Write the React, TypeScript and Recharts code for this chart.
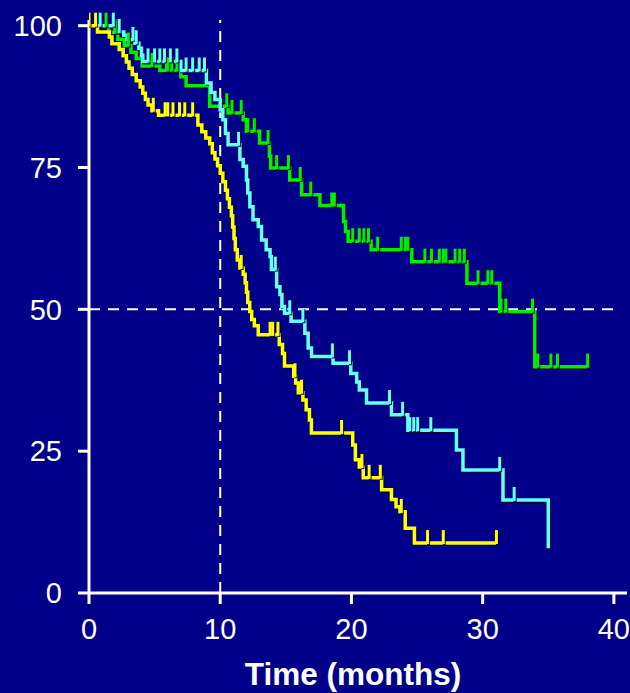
import React from 'react'
import { ComposedChart, Line, Scatter, XAxis, YAxis, ReferenceLine, Label } from 'recharts'

// survival curves: [time in months, % surviving] at each event
const yellowSteps = [
  [0, 100], [0.65, 98.9], [1.55, 98.0], [1.75, 96.8], [2.3, 95.8], [2.6, 94.7], [2.85, 93.6], [3.05, 92.5],
  [3.3, 91.4], [3.6, 90.3], [3.9, 89.2], [4.1, 88.1], [4.3, 87.0], [4.5, 86.0], [4.8, 85.0], [5.3, 84.2],
  [8.3, 82.5], [8.6, 81.3], [8.9, 80.2], [9.2, 79.2], [9.4, 77.6], [9.6, 76.5], [9.8, 75.3], [10.0, 74.0],
  [10.2, 72.5], [10.4, 71.0], [10.55, 69.5], [10.7, 68.0], [10.85, 66.5], [10.95, 64.5], [11.05, 62.5],
  [11.15, 60.5], [11.3, 58.7], [11.5, 57.3], [11.75, 56.2], [11.9, 54.7], [12.0, 53.0], [12.1, 51.2],
  [12.25, 49.6], [12.4, 48.2], [12.6, 47.1], [12.9, 45.5], [14.5, 43.8], [14.75, 42.2], [14.9, 40.0],
  [15.6, 38.2], [15.75, 37.0], [15.95, 35.3], [16.3, 34.0], [16.55, 32.3], [16.8, 30.5], [16.95, 28.2],
  [20.1, 26.1], [20.3, 23.5], [20.6, 22.2], [20.9, 20.3], [22.3, 18.2], [23.05, 16.5], [23.4, 15.2],
  [23.7, 14.3], [24.1, 11.4], [24.8, 8.8], [31.05, 8.8],
]
const yellowCensored = [0, 0.5, 4.9, 5.8, 6.0, 6.4, 6.9, 7.3, 7.9, 11.6, 13.8, 14.0, 14.4, 15.7, 16.2, 19.25, 20.8, 21.35, 22.2, 23.8, 25.8, 27.0, 31.05]

const cyanSteps = [
  [0, 100], [2.0, 98.9], [2.65, 98.3], [2.9, 97.5], [3.5, 96.9], [3.8, 96.0], [4.0, 94.8], [4.1, 93.7],
  [7.0, 92.1], [8.95, 89.9], [9.3, 88.2], [9.6, 87.0], [10.0, 85.2], [10.2, 83.4], [10.4, 81.0], [10.6, 79.0],
  [11.5, 76.4], [11.75, 75.2], [12.0, 72.8], [12.1, 70.5], [12.26, 68.1], [12.5, 65.8], [12.9, 64.6],
  [13.15, 62.2], [13.5, 60.5], [13.8, 59.3], [13.9, 57.0], [14.3, 54.0], [14.55, 52.6], [14.7, 50.5],
  [14.9, 49.3], [15.4, 47.9], [16.45, 45.8], [16.7, 43.2], [16.96, 41.7], [18.6, 40.5], [19.95, 38.7],
  [20.4, 37.2], [20.6, 35.8], [21.15, 33.5], [23.05, 31.4], [24.3, 28.7], [28.0, 25.2], [28.5, 21.7],
  [31.55, 16.4], [35.0, 7.9],
]
const cyanCensored = [0.85, 1.85, 2.3, 3.35, 3.6, 4.5, 5.0, 5.4, 5.75, 6.2, 6.7, 7.4, 7.9, 8.4, 8.8, 11.4, 14.2, 15.3, 16.3, 18.55, 19.85, 22.9, 23.9, 24.45, 24.75, 25.05, 26.05, 31.3, 32.4]

const greenSteps = [
  [0, 100], [1.5, 98.8], [2.2, 97.6], [2.7, 96.5], [3.2, 95.3], [3.6, 94.2], [4.05, 92.9], [5.4, 92.1],
  [7.0, 91.0], [7.4, 89.4], [9.2, 85.8], [10.6, 84.6], [11.75, 83.4], [12.0, 81.4], [13.0, 79.3],
  [13.75, 77.0], [13.85, 74.9], [15.3, 72.8], [16.2, 70.2], [17.6, 68.3], [19.4, 65.5], [19.55, 63.7],
  [19.75, 62.0], [21.5, 60.5], [24.6, 58.4], [28.8, 54.6], [31.3, 49.6], [33.97, 39.9], [38.0, 39.9],
]
const greenCensored = [1.3, 2.0, 3.0, 4.8, 5.9, 6.0, 6.3, 6.7, 10.5, 10.9, 11.6, 12.1, 12.6, 13.65, 14.3, 15.2, 16.1, 16.9, 18.5, 18.7, 20.1, 20.6, 20.95, 21.3, 22.0, 23.8, 24.1, 24.3, 25.6, 26.1, 26.7, 27.0, 27.2, 27.9, 28.25, 28.6, 29.65, 30.4, 30.7, 31.4, 31.76, 33.8, 34.2, 35.2, 35.7, 38.0]

const xTicks = [0, 10, 20, 30, 40]
const yTicks = [0, 25, 50, 75, 100]

const BG = '#00008a'
const FONT = '"Liberation Sans", Arial, sans-serif'

const toRows = (steps: number[][]) => steps.map(([t, s]) => ({ t, s }))

// value of the step curve at time t (censor marks sit on the curve)
function survAt(steps: number[][], t: number) {
  let v = steps[0][1]
  for (const [st, s] of steps) if (st <= t) v = s
  return v
}
const toMarks = (steps: number[][], times: number[]) => times.map(t => ({ t, s: survAt(steps, t) }))

const censorShape = (color: string) => (props: any) => {
  const { cx, cy } = props
  if (cx == null || cy == null) return <g />
  return <line x1={cx} y1={cy + 1} x2={cx} y2={cy - 13} stroke={color} strokeWidth={3} />
}

const arms = [
  { key: 'green', color: '#00ee00', steps: greenSteps, censored: greenCensored },
  { key: 'cyan', color: '#66ffff', steps: cyanSteps, censored: cyanCensored },
  { key: 'yellow', color: '#ffff00', steps: yellowSteps, censored: yellowCensored },
]

export default function App() {
  return (
    <div style={{ position: 'absolute', left: 0, top: 0, width: 630, height: 693, background: BG }}>
      <style>{`.km .recharts-line-curve, .km .recharts-scatter line { filter: drop-shadow(1px 1px 0.5px rgba(0,0,40,0.9)); }`}</style>
      <ComposedChart className="km" width={630} height={693} margin={{ top: 20, right: 3, bottom: 0, left: 0 }}>
        <XAxis
          type="number"
          dataKey="t"
          domain={[0, 41]}
          ticks={xTicks}
          allowDataOverflow
          height={100}
          tickSize={11}
          tickMargin={14}
          axisLine={{ stroke: '#fff', strokeWidth: 3 }}
          tickLine={{ stroke: '#fff', strokeWidth: 3 }}
          tick={{ fill: '#fff', fontSize: 29, fontFamily: FONT }}
        >
          <Label value="Time (months)" position="insideBottom" offset={8} dx={-5}
            style={{ fill: '#fff', fontSize: 31.5, fontWeight: 'bold', fontFamily: FONT }} />
        </XAxis>
        <YAxis
          type="number"
          dataKey="s"
          domain={[0, 101]}
          ticks={yTicks}
          width={89}
          tickSize={11}
          tickMargin={16}
          axisLine={{ stroke: '#fff', strokeWidth: 3 }}
          tickLine={{ stroke: '#fff', strokeWidth: 3 }}
          tick={{ fill: '#fff', fontSize: 29, fontFamily: FONT }}
        />
        <ReferenceLine x={10} stroke="#fff" strokeWidth={2} strokeDasharray="11 8" />
        <ReferenceLine segment={[{ x: 0, y: 50 }, { x: 40, y: 50 }]} stroke="#fff" strokeWidth={2} strokeDasharray="11 8" />
        {arms.map(a => (
          <Line key={a.key} data={toRows(a.steps)} dataKey="s" type="stepAfter" stroke={a.color}
            strokeWidth={3.5} dot={false} activeDot={false} isAnimationActive={false} />
        ))}
        {arms.map(a => (
          <Scatter key={a.key + '-c'} data={toMarks(a.steps, a.censored)} dataKey="s"
            shape={censorShape(a.color)} isAnimationActive={false} />
        ))}
      </ComposedChart>
    </div>
  )
}
